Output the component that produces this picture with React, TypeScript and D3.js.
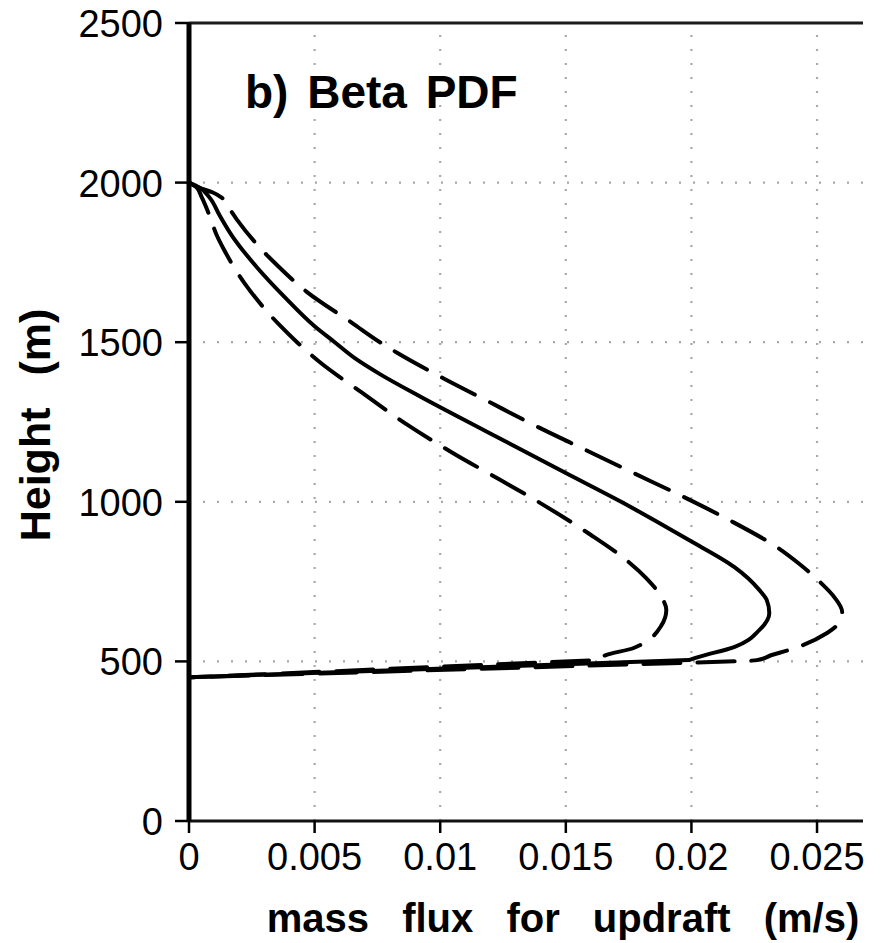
import React from "react";
import * as d3 from "d3";

// ---- data (mass flux m/s, height m) ----
const xTicks = [0, 0.005, 0.01, 0.015, 0.02, 0.025];
const xTickLabels = ["0", "0.005", "0.01", "0.015", "0.02", "0.025"];
const yTicks = [0, 500, 1000, 1500, 2000, 2500];
const yTickLabels = ["0", "500", "1000", "1500", "2000", "2500"];
const cloudBase = 450;

const solidProfile: [number, number][] = [
  [0, 2000], [0.0004, 1985], [0.0008, 1955], [0.0012, 1900], [0.0017, 1835],
  [0.0027, 1735], [0.0038, 1642], [0.005, 1550], [0.0058, 1500], [0.0066, 1450],
  [0.0076, 1400], [0.0092, 1330], [0.0118, 1222], [0.015, 1090], [0.0172, 1000],
  [0.0199, 880], [0.0217, 796], [0.0227, 724], [0.023, 692], [0.0231, 652],
  [0.0227, 598], [0.0217, 545], [0.0203, 514], [0.0199, 504],
];
const innerProfile: [number, number][] = [
  [0, 2000], [0.0003, 1985], [0.0005, 1955], [0.0008, 1900], [0.0011, 1836],
  [0.0014, 1789], [0.0022, 1686], [0.0036, 1554], [0.0043, 1500], [0.0052, 1438],
  [0.0069, 1341], [0.0087, 1241], [0.0105, 1153], [0.0124, 1068], [0.0139, 1000],
  [0.016, 896], [0.0174, 818], [0.0182, 761], [0.0187, 714], [0.019, 661],
  [0.0188, 612], [0.0177, 542], [0.0166, 520], [0.0162, 504],
];
const outerProfile: [number, number][] = [
  [0, 2000], [0.0004, 1984], [0.00095, 1969], [0.0013, 1953], [0.00155, 1925],
  [0.0019, 1885], [0.0031, 1773], [0.0035, 1742], [0.0047, 1657], [0.0065, 1560],
  [0.0076, 1500], [0.0083, 1466], [0.0101, 1388], [0.0118, 1319], [0.0139, 1234],
  [0.0158, 1162], [0.0177, 1090], [0.0197, 1015], [0.0215, 943], [0.0234, 858],
  [0.0243, 805], [0.0251, 750], [0.0257, 700], [0.026, 655], [0.0258, 614],
  [0.0254, 589], [0.0239, 536], [0.0232, 520], [0.0226, 504], [0.0221, 501],
];

const W = 881;
const H = 943;
const left = 189, right = 863, top = 23, bottom = 821;
const FONT = "'Liberation Sans', Arial, Helvetica, sans-serif";

export default function App() {
  const x = d3.scaleLinear().domain([0, 0.02683]).range([left, right]);
  const y = d3.scaleLinear().domain([0, 2500]).range([bottom, top]);

  const line = d3
    .line<[number, number]>()
    .x((d) => x(d[0]))
    .y((d) => y(d[1]))
    .curve(d3.curveMonotoneY);

  const profilePath = (p: [number, number][]) =>
    (line(p) as string) + `L${x(0)},${y(cloudBase)}`;

  const series = [
    { data: innerProfile, dash: "37 17" },
    { data: outerProfile, dash: "37 17" },
    { data: solidProfile, dash: undefined as string | undefined },
  ];

  return (
    <svg
      width={W}
      height={H}
      style={{ position: "absolute", left: 0, top: 0, background: "#fff" }}
      fontFamily={FONT}
    >
      <rect x={0} y={0} width={W} height={H} fill="#fff" />
      {/* grid */}
      <g stroke="#a8a8a8" strokeWidth={2.2} strokeDasharray="2 12">
        {xTicks.slice(1).map((t) => (
          <line key={"gx" + t} x1={x(t)} x2={x(t)} y1={bottom} y2={top} />
        ))}
        {yTicks.slice(1, -1).map((t) => (
          <line key={"gy" + t} x1={left} x2={right} y1={y(t)} y2={y(t)} />
        ))}
      </g>

      {/* curves */}
      <g fill="none" stroke="#000" strokeWidth={4} strokeLinecap="round" strokeLinejoin="round">
        {series.map((s, i) => (
          <path key={i} d={profilePath(s.data)} strokeDasharray={s.dash} />
        ))}
      </g>

      {/* frame */}
      <line x1={left} x2={right} y1={top} y2={top} stroke="#1a1a1a" strokeWidth={3} />
      <line x1={left} x2={right} y1={bottom} y2={bottom} stroke="#111" strokeWidth={3} />
      <line x1={left} x2={left} y1={top} y2={bottom} stroke="#000" strokeWidth={5} />

      {/* y ticks */}
      {yTicks.map((t, i) => (
        <g key={"yt" + t}>
          <line x1={left - 14} x2={left} y1={y(t)} y2={y(t)} stroke="#000" strokeWidth={2.5} />
          <text x={163} y={y(t) + 14} textAnchor="end" fontSize={38} fill="#000">
            {yTickLabels[i]}
          </text>
        </g>
      ))}

      {/* x ticks */}
      {xTicks.map((t, i) => (
        <g key={"xt" + t}>
          <line x1={x(t)} x2={x(t)} y1={bottom} y2={bottom + 12} stroke="#000" strokeWidth={2.5} />
          <text x={x(t)} y={870} textAnchor="middle" fontSize={38} fill="#000">
            {xTickLabels[i]}
          </text>
        </g>
      ))}

      {/* axis titles */}
      <text
        x={563}
        y={932}
        textAnchor="middle"
        fontSize={40}
        fontWeight="bold"
        style={{ wordSpacing: "22px" }}
      >
        mass flux for updraft (m/s)
      </text>
      <text
        transform="translate(50,425) rotate(-90)"
        textAnchor="middle"
        fontSize={43}
        fontWeight="bold"
        style={{ wordSpacing: "20px" }}
      >
        Height (m)
      </text>

      {/* panel title */}
      <text x={245} y={108} fontSize={46} fontWeight="bold" style={{ wordSpacing: "6px" }}>
        b) Beta PDF
      </text>
    </svg>
  );
}
